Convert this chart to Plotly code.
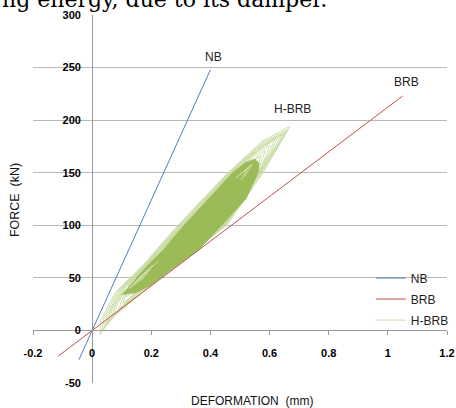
import plotly.graph_objects as go

# ---------------- data ----------------
x_ticks = [-0.2, 0, 0.2, 0.4, 0.6, 0.8, 1, 1.2]
x_tick_labels = ["-0.2", "0", "0.2", "0.4", "0.6", "0.8", "1", "1.2"]
y_ticks = [-50, 0, 50, 100, 150, 200, 250, 300]
y_tick_labels = ["-50", "0", "50", "100", "150", "200", "250", "300"]

nb_x = [-0.045, 0.40]
nb_f = [-28, 248]

brb_x = [-0.115, 1.05]
brb_f = [-24.5, 223]

# H-BRB hysteresis loops (outer, lighter loops), vertices
hbrb_loop_x = [
    [0.027, 0.030, 0.078, 0.172, 0.290, 0.460, 0.575, 0.668, 0.640, 0.578, 0.455, 0.272, 0.170, 0.058, 0.027],
    [0.033, 0.040, 0.085, 0.176, 0.293, 0.462, 0.577, 0.662, 0.634, 0.574, 0.452, 0.270, 0.169, 0.066, 0.033],
    [0.040, 0.050, 0.092, 0.180, 0.296, 0.465, 0.578, 0.655, 0.628, 0.570, 0.450, 0.268, 0.168, 0.075, 0.040],
    [0.048, 0.059, 0.098, 0.185, 0.299, 0.466, 0.574, 0.648, 0.623, 0.568, 0.448, 0.266, 0.169, 0.085, 0.048],
    [0.055, 0.068, 0.105, 0.190, 0.302, 0.468, 0.570, 0.640, 0.618, 0.566, 0.447, 0.265, 0.170, 0.095, 0.055],
    [0.064, 0.076, 0.110, 0.195, 0.304, 0.470, 0.565, 0.628, 0.609, 0.565, 0.446, 0.263, 0.172, 0.102, 0.064],
    [0.072, 0.085, 0.115, 0.200, 0.306, 0.472, 0.560, 0.618, 0.600, 0.563, 0.445, 0.262, 0.175, 0.110, 0.072],
    [0.090, 0.100, 0.125, 0.205, 0.308, 0.475, 0.550, 0.600, 0.585, 0.560, 0.443, 0.260, 0.180, 0.125, 0.090],
    [0.105, 0.110, 0.130, 0.210, 0.310, 0.477, 0.545, 0.585, 0.572, 0.556, 0.441, 0.258, 0.185, 0.140, 0.105],
    [0.115, 0.120, 0.140, 0.215, 0.311, 0.478, 0.540, 0.570, 0.563, 0.555, 0.440, 0.257, 0.190, 0.150, 0.115],
]
hbrb_loop_f = [
    [-4, 10, 36, 62, 100, 150, 180, 194, 180, 150, 100, 60, 36, 10, -4],
    [-1, 12, 37, 62, 100, 150, 179, 191, 178, 150, 100, 60, 37, 12, -1],
    [2, 14, 38, 63, 100, 150, 178, 189, 176, 150, 100, 60, 38, 14, 2],
    [5, 17, 39, 64, 100, 150, 176, 187, 175, 150, 100, 61, 39, 17, 5],
    [8, 20, 40, 65, 100, 150, 174, 186, 174, 150, 100, 62, 40, 20, 8],
    [11, 22, 41, 66, 100, 150, 172, 184, 172, 150, 100, 62, 42, 23, 11],
    [14, 24, 42, 67, 100, 150, 170, 182, 170, 150, 100, 62, 44, 26, 14],
    [20, 28, 44, 68, 100, 150, 166, 176, 164, 148, 100, 64, 46, 30, 20],
    [26, 32, 45, 70, 100, 150, 162, 171, 160, 146, 100, 64, 48, 34, 26],
    [32, 37, 46, 71, 100, 150, 160, 166, 158, 145, 100, 65, 50, 38, 32],
]

# dense core of overlapping H-BRB loops (outline)
hbrb_core_x = [0.100, 0.120, 0.165, 0.240, 0.311, 0.392, 0.475, 0.520, 0.550, 0.565,
               0.561, 0.520, 0.439, 0.362, 0.255, 0.200, 0.150, 0.100]
hbrb_core_f = [34, 40, 55, 77, 100, 125, 150, 160, 163, 159,
               150, 125, 100, 77, 55, 43, 36, 34]

# pale inner loop tips visible inside the dense core
hbrb_inner_x = [
    [0.190, 0.125, 0.175],
    [0.205, 0.142, 0.188],
    [0.225, 0.160, 0.200],
    [0.500, 0.540, 0.515],
    [0.485, 0.525, 0.503],
]
hbrb_inner_f = [
    [58, 40, 50],
    [62, 45, 54],
    [66, 50, 58],
    [148, 158, 146],
    [145, 154, 143],
]

series_labels = ["NB", "BRB", "H-BRB"]
label_pos_x = [0.409, 1.064, 0.679]
label_pos_f = [260, 236, 211]

# ---------------- styles ----------------
BLUE = "#4F81BD"
RED = "#C0504D"
GREEN = "#9BBB59"
LIGHT_GREEN = "#C7DAA0"
PALE_GREEN = "#DCE8C4"
FONT = "Liberation Sans"

fig = go.Figure()

for i, (lx, lf) in enumerate(zip(hbrb_loop_x, hbrb_loop_f)):
    fig.add_trace(go.Scatter(
        x=lx, y=lf, mode="lines",
        line=dict(color=LIGHT_GREEN, width=0.9),
        name="H-BRB", legendgroup="c", showlegend=(i == 0),
        legendrank=3, hoverinfo="skip"))

fig.add_trace(go.Scatter(
    x=hbrb_core_x, y=hbrb_core_f, mode="lines", fill="toself",
    fillcolor=GREEN, line=dict(color=GREEN, width=0.6),
    name="H-BRB", legendgroup="c", showlegend=False, hoverinfo="skip"))

for lx, lf in zip(hbrb_inner_x, hbrb_inner_f):
    fig.add_trace(go.Scatter(
        x=lx, y=lf, mode="lines", line=dict(color=PALE_GREEN, width=0.8),
        name="H-BRB", legendgroup="c", showlegend=False, hoverinfo="skip"))

fig.add_trace(go.Scatter(x=nb_x, y=nb_f, mode="lines", name="NB",
                         line=dict(color=BLUE, width=1), legendgroup="a", legendrank=1))
fig.add_trace(go.Scatter(x=brb_x, y=brb_f, mode="lines", name="BRB",
                         line=dict(color=RED, width=1), legendgroup="b", legendrank=2))

for t, lx, lf in zip(series_labels, label_pos_x, label_pos_f):
    fig.add_annotation(x=lx, y=lf, text=t, showarrow=False,
                       xanchor="center", yanchor="middle",
                       font=dict(family=FONT, size=12, color="#222222"))

tickfont = dict(family=FONT, size=11, color="#000000", weight="bold")

fig.update_layout(
    width=456, height=408,
    margin=dict(l=33, r=9, t=15, b=25, autoexpand=False),
    paper_bgcolor="white", plot_bgcolor="white",
    showlegend=True,
    legend=dict(x=0.816, y=0.3246, xanchor="left", yanchor="top",
                font=dict(family=FONT, size=12, color="#222222"),
                bgcolor="rgba(0,0,0,0)", tracegroupgap=2,
                traceorder="grouped"),
    xaxis=dict(range=[-0.2, 1.2], anchor="free", position=50 / 350,
               tickvals=x_ticks, ticktext=x_tick_labels, tickfont=tickfont,
               showgrid=False, zeroline=False, showline=True,
               linecolor="#9a9a9a", linewidth=1,
               ticks="outside", ticklen=4, tickcolor="#9a9a9a",
               ticklabelstandoff=8, automargin=False),
    yaxis=dict(range=[-50, 300], anchor="free", position=0.2 / 1.4,
               tickvals=y_ticks, ticktext=y_tick_labels, tickfont=tickfont,
               showgrid=True, gridcolor="#b8b8b8", gridwidth=1,
               zeroline=False, showline=True, linecolor="#9a9a9a", linewidth=1,
               ticks="", ticklabelstandoff=9, automargin=False),
)

# axis titles
fig.add_annotation(xref="paper", yref="paper", x=-0.0435, y=0.497,
                   xanchor="center", yanchor="middle",
                   text="FORCE  (kN)", textangle=-90, showarrow=False,
                   font=dict(family=FONT, size=12.5, color="#111111"))
fig.add_annotation(xref="paper", yref="paper", x=0.529, y=-0.049,
                   xanchor="center", yanchor="middle",
                   text="DEFORMATION  (mm)", showarrow=False,
                   font=dict(family=FONT, size=12, color="#111111"))

# fragment of surrounding document text, cut off at the top
fig.add_annotation(xref="paper", yref="paper", x=-33 / 414, y=1 + 1 / 368,
                   xanchor="left", yanchor="bottom",
                   text="ng energy, due to its damper.", showarrow=False,
                   font=dict(family="DejaVu Serif", size=22, color="#000000"))

fig.write_html("out.html",
               config={"displayModeBar": False},
               post_script="document.body.style.margin='0';document.body.style.overflow='hidden';")
